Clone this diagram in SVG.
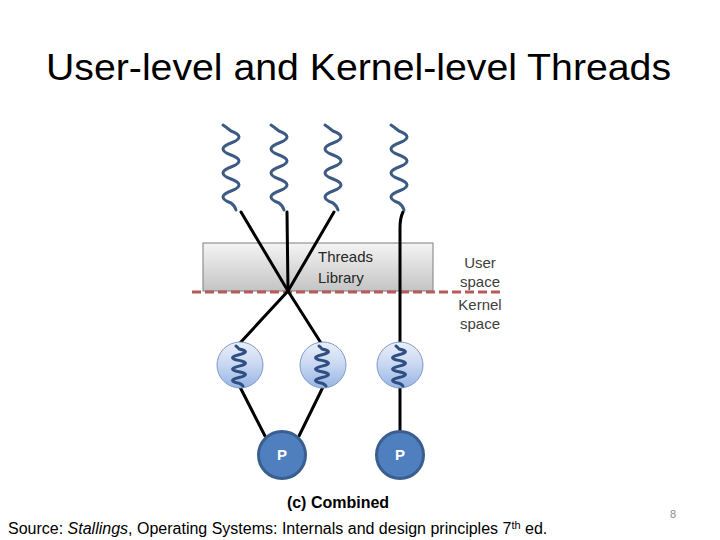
<svg xmlns="http://www.w3.org/2000/svg" width="720" height="540" viewBox="0 0 720 540">
  <style>
    .title { font-family: "Liberation Sans", Arial, sans-serif; font-size: 37px; fill: #000; }
    .lib { font-family: "Liberation Sans", Arial, sans-serif; font-size: 15px; fill: #262626; }
    .space { font-family: "Liberation Sans", Arial, sans-serif; font-size: 15px; fill: #404040; text-anchor: middle; }
    .cap { font-family: "Liberation Sans", Arial, sans-serif; font-size: 16px; font-weight: bold; fill: #000; text-anchor: middle; }
    .src { font-family: "Liberation Sans", Arial, sans-serif; font-size: 16px; fill: #000; }
    .pg { font-family: "Liberation Sans", Arial, sans-serif; font-size: 11px; fill: #8c8c8c; text-anchor: middle; }
    .ptxt { font-family: "Liberation Sans", Arial, sans-serif; font-size: 15px; font-weight: bold; fill: #fff; text-anchor: middle; }
    .conn { stroke: #000; stroke-width: 3; fill: none; stroke-linecap: round; }
    .usq { stroke: #3c5a84; stroke-width: 3; fill: none; stroke-linecap: round; stroke-linejoin: round; }
    .ksq { stroke: #2f4f80; stroke-width: 3; fill: none; stroke-linecap: round; stroke-linejoin: round; }
    .kt { fill: url(#ktGrad); stroke: #7f9bc6; stroke-width: 1; }
    .proc { fill: #4f7fbf; stroke: #3a5f8f; stroke-width: 3; }
  </style>
  <defs>
    <linearGradient id="libGrad" x1="0" y1="0" x2="0" y2="1">
      <stop offset="0" stop-color="#f4f4f4"/>
      <stop offset="1" stop-color="#c4c4c4"/>
    </linearGradient>
    <linearGradient id="ktGrad" x1="0" y1="0" x2="0" y2="1">
      <stop offset="0" stop-color="#eaf0fa"/>
      <stop offset="0.5" stop-color="#c8d7f1"/>
      <stop offset="1" stop-color="#96b4e6"/>
    </linearGradient>
    <path id="bigSq" d="M1,0 Q4,2 9,6 Q25,12 9,18 T9,30 T9,42 T9,54 T9,66 T9,78 Q13,81 14,85"/>
    <path id="smallSq" d="M-3,0 Q-1,1.5 0,3 Q13,5.7 0,8.7 T0,14.4 T0,20.1 T0,25.8 T0,31.5 T0,37.2 Q3,38.5 4,40"/>
  </defs>

  <rect width="720" height="540" fill="#fff"/>

  <text class="title" x="46" y="80" textLength="625" lengthAdjust="spacingAndGlyphs">User-level and Kernel-level Threads</text>

  <g id="threads-library">
    <rect x="203" y="243" width="230" height="48" fill="url(#libGrad)" stroke="#7f7f7f" stroke-width="1"/>
    <text class="lib" x="318" y="262">Threads</text>
    <text class="lib" x="318" y="283">Library</text>
  </g>

  <g id="boundary">
    <line x1="192" y1="292" x2="504" y2="292" stroke="#b85a5a" stroke-width="3" stroke-dasharray="9,4"/>
    <text class="space" x="480" y="268">User</text>
    <text class="space" x="480" y="287">space</text>
    <text class="space" x="480" y="310">Kernel</text>
    <text class="space" x="480" y="329">space</text>
  </g>

  <g id="connectors">
    <line class="conn" x1="241" y1="212" x2="288" y2="291"/>
    <line class="conn" x1="287" y1="212" x2="288" y2="291"/>
    <line class="conn" x1="334" y1="212" x2="288" y2="291"/>
    <line class="conn" x1="288" y1="291" x2="240" y2="343"/>
    <line class="conn" x1="288" y1="291" x2="321" y2="343"/>
    <path class="conn" d="M403,212 Q400,218 400,228 L400,343"/>
    <line class="conn" x1="240" y1="387" x2="265" y2="436"/>
    <line class="conn" x1="323" y1="387" x2="299" y2="436"/>
    <line class="conn" x1="400" y1="387" x2="400" y2="431"/>
  </g>

  <g id="ut1"><use href="#bigSq" class="usq" transform="translate(222,125)"/></g>
  <g id="ut2"><use href="#bigSq" class="usq" transform="translate(270,125)"/></g>
  <g id="ut3"><use href="#bigSq" class="usq" transform="translate(324,125)"/></g>
  <g id="ut4"><use href="#bigSq" class="usq" transform="translate(390,125)"/></g>

  <g id="kt1">
    <circle class="kt" cx="240" cy="365" r="23"/>
    <use href="#smallSq" class="ksq" transform="translate(239,346)"/>
  </g>
  <g id="kt2">
    <circle class="kt" cx="323" cy="365" r="23"/>
    <use href="#smallSq" class="ksq" transform="translate(322,346)"/>
  </g>
  <g id="kt3">
    <circle class="kt" cx="400" cy="365" r="23"/>
    <use href="#smallSq" class="ksq" transform="translate(399,346)"/>
  </g>

  <g id="p1">
    <circle class="proc" cx="282" cy="455" r="23.5"/>
    <text class="ptxt" x="282" y="460">P</text>
  </g>
  <g id="p2">
    <circle class="proc" cx="400" cy="455" r="23.5"/>
    <text class="ptxt" x="400" y="460">P</text>
  </g>

  <text class="cap" x="338" y="508">(c) Combined</text>
  <text class="src" x="8" y="534">Source: <tspan font-style="italic">Stallings</tspan>, Operating Systems: Internals and design principles 7<tspan font-size="11" dy="-5">th</tspan><tspan dy="5"> ed.</tspan></text>
  <text class="pg" x="673" y="518">8</text>
</svg>
